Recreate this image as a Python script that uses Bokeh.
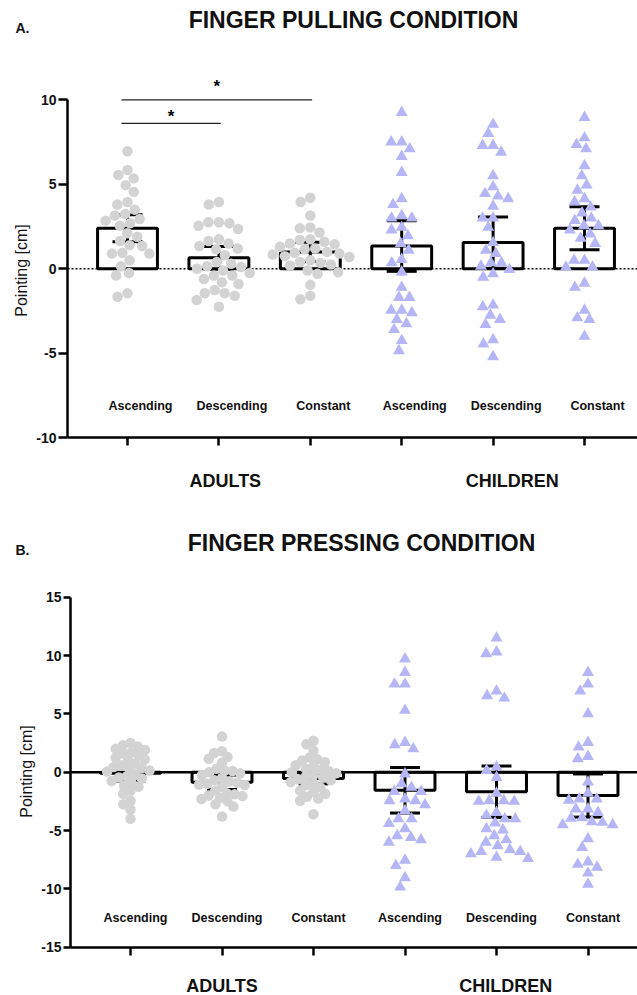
import math
import numpy as np
from bokeh.plotting import figure
from bokeh.models import Range1d, FixedTicker, Label
from bokeh.layouts import column
from bokeh.core.properties import value
from bokeh.embed import file_html
from bokeh.resources import INLINE

# ---------------- data ----------------
categories = ["Ascending", "Descending", "Constant", "Ascending", "Descending", "Constant"]
group_names = ["ADULTS", "CHILDREN"]

# Panel A: finger pulling condition (pointing error, cm)
pull_adults_asc = [6.95, 5.85, 5.55, 5.35, 4.95, 4.55, 3.95, 3.8, 3.5, 3.25, 3.15, 2.95, 2.85, 2.7, 2.55,
                   2.1, 1.9, 1.65, 1.4, 1.35, 0.95, 0.9, 0.9, 0.5, 0.15, -0.25, -0.4, -1.45, -1.65]
pull_adults_desc = [3.95, 3.8, 2.75, 2.75, 2.7, 2.55, 2.35, 1.75, 1.65, 1.5, 1.35, 1.2, 1.15, 0.8, 0.4, 0.3,
                    0.15, 0.1, 0.0, -0.1, -0.25, -0.4, -0.4, -0.6, -0.8, -0.9, -1.25, -1.45, -1.45, -1.6,
                    -1.85, -2.25]
pull_adults_const = [4.2, 3.95, 3.15, 2.45, 2.4, 2.15, 1.75, 1.7, 1.6, 1.5, 1.45, 1.3, 1.2, 1.15, 1.0, 0.95,
                     0.9, 0.85, 0.75, 0.7, 0.5, 0.4, 0.35, 0.25, 0.2, -0.1, -0.2, -0.3, -0.95, -1.6, -1.8]
pull_children_asc = [9.25, 7.5, 7.5, 7.1, 6.65, 5.7, 4.15, 3.8, 3.15, 3.0, 3.0, 2.45, 2.3, 1.95, 1.5, 1.1,
                     0.55, 0.35, -0.2, -1.1, -1.7, -1.7, -2.45, -2.45, -2.6, -3.0, -3.25, -3.6, -4.25, -4.85]
pull_children_desc = [8.55, 8.0, 7.3, 7.3, 6.9, 5.5, 4.85, 4.45, 4.3, 4.15, 3.7, 3.0, 3.0, 2.45, 1.55, 1.1,
                      0.9, 0.35, 0.35, 0.15, -0.05, -0.3, -0.5, -2.15, -2.25, -2.75, -3.0, -3.3, -4.2, -4.45,
                      -5.2]
pull_children_const = [8.95, 7.75, 7.35, 7.1, 6.1, 5.5, 4.95, 4.65, 4.15, 3.95, 3.65, 3.3, 3.0, 2.85, 2.55,
                       2.55, 2.3, 2.05, 1.8, 1.5, 0.5, 0.5, 0.1, 0.1, -0.85, -1.1, -2.45, -2.9, -3.0, -4.0]
pull_means = [2.4, 0.65, 1.0, 1.35, 1.55, 2.4]
pull_ci = [0.8, 0.67, 0.57, 1.5, 1.52, 1.27]

# significance brackets in panel A
sig_from = [0, 0]
sig_to = [1, 2]
sig_height = [8.6, 10.0]
sig_text = ["*", "*"]

# Panel B: finger pressing condition
press_adults_asc = [2.5, 2.3, 2.2, 2.0, 1.9, 1.65, 1.6, 1.5, 1.25, 1.1, 1.0, 0.75, 0.6, 0.45, 0.35, 0.3,
                    0.15, 0.05, -0.15, -0.35, -0.45, -0.55, -0.75, -0.9, -1.15, -1.25, -1.6, -1.85, -2.45,
                    -2.75, -3.2, -4.0]
press_adults_desc = [3.05, 1.8, 1.65, 1.3, 1.15, 0.8, 0.3, 0.15, 0.1, 0.0, -0.1, -0.25, -0.5, -0.7, -0.8,
                     -0.9, -1.0, -1.05, -1.1, -1.25, -1.6, -1.8, -1.9, -2.0, -2.05, -2.2, -2.3, -2.5, -2.75,
                     -2.95, -3.8]
press_adults_const = [2.7, 2.4, 1.85, 1.25, 1.1, 1.0, 0.85, 0.6, 0.5, 0.3, 0.2, 0.1, 0.0, -0.1, -0.25, -0.4,
                      -0.45, -0.6, -0.7, -0.85, -0.95, -1.1, -1.3, -1.6, -1.7, -1.85, -2.1, -2.25, -2.45, -3.6]
press_children_asc = [9.7, 8.55, 7.55, 7.55, 5.3, 2.55, 2.35, 2.0, -0.15, -1.0, -1.3, -1.65, -1.65, -2.3,
                      -2.45, -2.45, -2.8, -3.3, -4.0, -4.0, -4.4, -4.85, -5.45, -5.6, -5.8, -6.0, -7.55, -8.0,
                      -9.05, -9.85]
press_children_desc = [11.5, 10.3, 10.15, 6.95, 6.55, 6.35, 0.45, 0.15, -0.45, -1.8, -2.45, -2.45, -2.5,
                       -2.5, -3.45, -3.7, -4.0, -4.0, -4.35, -4.85, -4.95, -5.45, -5.8, -6.0, -6.3, -6.65,
                       -6.8, -6.8, -7.0, -7.3, -7.4]
press_children_const = [8.55, 7.55, 6.95, 5.0, 2.55, 2.15, 1.35, 1.15, -0.85, -1.8, -2.3, -2.3, -2.4, -3.15,
                        -3.15, -3.45, -3.9, -3.95, -4.25, -4.3, -4.5, -4.5, -5.7, -6.45, -7.7, -7.9, -8.15,
                        -8.65, -9.6]
press_means = [-0.1, -0.86, -0.55, -1.55, -1.67, -2.0]
press_ci = [0.67, 0.62, 0.45, 1.95, 2.2, 1.85]

# ---------------- styling ----------------
FONT = "Liberation Sans"
GREY = "#D3D3D3"
LAVENDER = "#B6B6F6"
INK = "#111111"
POS = list(range(6))
WIDTH = 637


def swarm_offsets(vals, px_per_unit, diam):
    vals = np.asarray(vals, dtype=float)
    order = np.argsort(-vals, kind="stable")
    px, py = [], []
    out = np.zeros(len(vals))
    for i in order:
        y = vals[i] * px_per_unit
        iv = []
        for xj, yj in zip(px, py):
            dy = abs(y - yj)
            if dy < diam:
                dx = math.sqrt(diam * diam - dy * dy)
                iv.append((xj - dx, xj + dx))
        cands = [0.0] + [a for a, _ in iv] + [b for _, b in iv]
        ok = [c for c in cands if all(not (a + 1e-6 < c < b - 1e-6) for a, b in iv)]
        best = min(ok, key=lambda c: (round(abs(c), 6), c))
        out[i] = best
        px.append(best)
        py.append(y)
    return out


def make_panel(series, means, ci, height, axis_px, cat0_px, px_cat, zero_py, px_unit, yticks,
               tick_len, zero_dash, zero_width, label_y, label_dx, adult_diam):
    # the frame covers the whole canvas; the axes are pinned at fixed data locations
    x_start = -cat0_px / px_cat
    x_end = (WIDTH - cat0_px) / px_cat
    y_end = zero_py / px_unit
    y_start = -(height - zero_py) / px_unit
    axis_x = (axis_px - cat0_px) / px_cat
    ylo = min(yticks)
    p = figure(width=WIDTH, height=height, x_range=Range1d(x_start, x_end), y_range=Range1d(y_start, y_end),
               output_backend="svg", toolbar_location=None,
               min_border=0, min_border_left=0, min_border_right=0, min_border_top=0, min_border_bottom=0)
    p.outline_line_color = None
    p.xgrid.visible = False
    p.ygrid.visible = False
    p.background_fill_color = "white"

    ya = p.yaxis[0]
    ya.fixed_location = axis_x
    ya.ticker = FixedTicker(ticks=yticks)
    ya.major_label_overrides = {t: str(t) for t in yticks}
    ya.bounds = (min(yticks), max(yticks))
    ya.axis_line_width = 2.5
    ya.major_tick_line_width = 2.5
    ya.major_tick_out = tick_len
    ya.major_tick_in = 0
    ya.minor_tick_line_color = None
    ya.major_label_text_font = FONT
    ya.major_label_text_font_style = "bold"
    ya.major_label_text_font_size = "14px"
    ya.major_label_text_color = INK
    ya.major_label_standoff = 2

    xa = p.xaxis[0]
    xa.fixed_location = ylo
    xa.ticker = FixedTicker(ticks=POS)
    xa.bounds = (axis_x, x_end)
    xa.major_label_overrides = {i: "" for i in POS}
    xa.axis_line_width = 2.5
    xa.major_tick_line_width = 2.5
    xa.major_tick_out = 8
    xa.major_tick_in = 0
    xa.minor_tick_line_color = None

    # zero reference line from the y axis to the right edge
    p.segment(x0=[axis_x], y0=[0], x1=[x_end], y1=[0], line_color="black",
              line_dash=zero_dash, line_width=zero_width)

    # bars
    p.vbar(x=POS, top=means, bottom=0, width=0.655, fill_color=None,
           line_color="black", line_width=3)
    # error bars
    lo = [m - c for m, c in zip(means, ci)]
    hi = [m + c for m, c in zip(means, ci)]
    cap = 15.0 / px_cat
    p.segment(x0=POS, y0=lo, x1=POS, y1=hi, line_color="black", line_width=3)
    p.segment(x0=[x - cap for x in POS], y0=hi, x1=[x + cap for x in POS], y1=hi,
              line_color="black", line_width=3)
    p.segment(x0=[x - cap for x in POS], y0=lo, x1=[x + cap for x in POS], y1=lo,
              line_color="black", line_width=3)

    # points
    for k, vals in enumerate(series):
        if k < 3:
            offs = swarm_offsets(vals, px_unit, adult_diam) / px_cat
            xs = [POS[k] + o for o in offs]
            p.scatter(x=xs, y=vals, marker="circle", size=10.5, fill_color=GREY, line_color=None)
        else:
            offs = swarm_offsets(vals, px_unit, 10.5) / px_cat
            xs = [POS[k] + o for o in offs]
            p.scatter(x=xs, y=vals, marker="triangle", size=12, fill_color=LAVENDER, line_color=None)

    # category names inside the plot
    p.text(x=POS, y=[label_y] * 6, text=categories, text_font=value(FONT), text_font_style="bold",
           text_font_size="12.5px", text_align="center", text_baseline="middle", x_offset=label_dx,
           text_color=INK)
    return p


def add_text(p, height, x, y, text, size, bold=True, angle=0.0, x_data=False):
    # x, y given in figure pixels from the top-left corner (x may be a data value)
    p.add_layout(Label(x=x, y=height - y, x_units="data" if x_data else "screen", y_units="screen",
                       text=text, angle=angle, text_font=FONT,
                       text_font_style="bold" if bold else "normal", text_font_size=size,
                       text_align="center", text_baseline="middle", text_color=INK))


# ---------------- Panel A ----------------
A_H = 520
pA = make_panel([pull_adults_asc, pull_adults_desc, pull_adults_const,
                 pull_children_asc, pull_children_desc, pull_children_const],
                pull_means, pull_ci, height=A_H, axis_px=67, cat0_px=127, px_cat=91.4,
                zero_py=268.3, px_unit=16.9, yticks=[-10, -5, 0, 5, 10], tick_len=9,
                zero_dash="2 2", zero_width=1.5, label_y=-8.1, label_dx=13, adult_diam=10.5)

sx0 = [sig_from[i] - 0.065 for i in range(len(sig_from))]
sx1 = [sig_to[i] + 0.02 for i in range(len(sig_to))]
pA.segment(x0=sx0, y0=sig_height, x1=sx1, y1=sig_height, line_color="#222222", line_width=1.3)
pA.text(x=[(a + b) / 2 for a, b in zip(sx0, sx1)], y=sig_height, text=sig_text,
        text_font=value(FONT), text_font_style="bold", text_font_size="17px",
        text_align="center", text_baseline="alphabetic", y_offset=[-7, -13])

add_text(pA, A_H, 22, 27, "A.", "14px")
add_text(pA, A_H, 353, 19, "FINGER PULLING CONDITION", "23px")
add_text(pA, A_H, 21, 270, "Pointing [cm]", "16px", bold=False, angle=math.pi / 2)
for name, gx in zip(group_names, [1.07, 4.21]):
    add_text(pA, A_H, gx, 480, name, "18px", x_data=True)

# ---------------- Panel B ----------------
B_H = 475
pB = make_panel([press_adults_asc, press_adults_desc, press_adults_const,
                 press_children_asc, press_children_desc, press_children_const],
                press_means, press_ci, height=B_H, axis_px=70, cat0_px=130, px_cat=91.5,
                zero_py=251.7, px_unit=350 / 30, yticks=[-15, -10, -5, 0, 5, 10, 15],
                tick_len=7, zero_dash="solid", zero_width=2.5, label_y=-12.5, label_dx=5, adult_diam=8)

add_text(pB, B_H, 22, 29, "B.", "14px")
add_text(pB, B_H, 361, 22, "FINGER PRESSING CONDITION", "23px")
add_text(pB, B_H, 26, 251, "Pointing [cm]", "16px", bold=False, angle=math.pi / 2)
for name, gx in zip(group_names, [1.0, 4.1]):
    add_text(pB, B_H, gx, 465, name, "18px", x_data=True)

layout = column(pA, pB, spacing=0)
open("out.html", "w").write(file_html(layout, INLINE))
